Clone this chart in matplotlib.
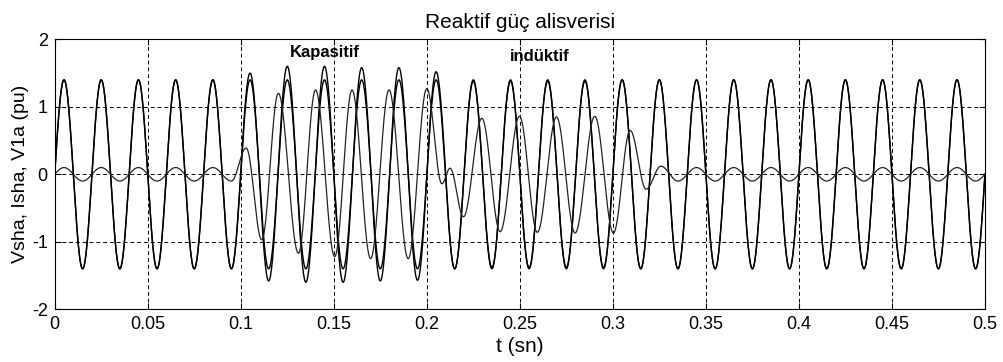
import numpy as np
import matplotlib
matplotlib.use('Agg')
from matplotlib import pyplot as plt

# half-cycle extreme times of the 50 Hz waveforms (s), one before/after the window
peak_t = np.round(np.arange(52) * 0.01 - 0.005, 4)

# |peak| of each half cycle (sign alternates, first is a trough)
vsha_amp = [1.4] * 52
v1a_amp = [1.4,
           1.4, 1.4, 1.4, 1.4, 1.4, 1.4, 1.4, 1.4, 1.4, 1.4,
           1.5, 1.58, 1.6, 1.6, 1.6, 1.6, 1.58, 1.58, 1.58, 1.57,
           1.52, 1.4, 1.38, 1.38, 1.38, 1.38, 1.38, 1.38, 1.38, 1.38,
           1.4, 1.4, 1.4, 1.4, 1.4, 1.4, 1.4, 1.4, 1.4, 1.4,
           1.4, 1.4, 1.4, 1.4, 1.4, 1.4, 1.4, 1.4, 1.4, 1.4,
           1.4]

# shunt current extremes (t, value)
isha_t = [-0.005, 0.005, 0.015, 0.025, 0.035, 0.045, 0.055, 0.065, 0.075, 0.085, 0.095,
          0.1029, 0.1113, 0.1202, 0.131, 0.1402, 0.1505, 0.1598, 0.1698, 0.1797, 0.19,
          0.2, 0.2081, 0.2125, 0.2197, 0.2296, 0.2394, 0.2498, 0.2594, 0.2697, 0.2797,
          0.2903, 0.3003, 0.3093, 0.3179, 0.3258, 0.335, 0.345, 0.355, 0.365, 0.375,
          0.385, 0.395, 0.405, 0.415, 0.425, 0.435, 0.445, 0.455, 0.465, 0.475,
          0.485, 0.495, 0.505]
isha_v = [-0.1, 0.1, -0.1, 0.1, -0.1, 0.1, -0.1, 0.1, -0.1, 0.1, -0.1,
          0.39, -0.97, 1.2, -1.17, 1.25, -1.22, 1.25, -1.25, 1.25, -1.25,
          1.27, -0.14, 0.09, -0.63, 0.83, -0.85, 0.86, -0.86, 0.85, -0.87,
          0.86, -0.87, 0.65, -0.22, 0.12, -0.1, 0.1, -0.1, 0.1, -0.1,
          0.1, -0.1, 0.1, -0.1, 0.1, -0.1, 0.1, -0.1, 0.1, -0.1,
          0.1, -0.1, 0.1]

x_ticks = [0, 0.05, 0.1, 0.15, 0.2, 0.25, 0.3, 0.35, 0.4, 0.45, 0.5]
x_ticklabels = ['0', '0.05', '0.1', '0.15', '0.2', '0.25', '0.3', '0.35', '0.4', '0.45', '0.5']
y_ticks = [-2, -1, 0, 1, 2]


def wave(tk, vk, t):
    # join consecutive extremes with half-cosine arcs
    tk = np.asarray(tk)
    vk = np.asarray(vk)
    i = np.clip(np.searchsorted(tk, t) - 1, 0, len(tk) - 2)
    s = (t - tk[i]) / (tk[i + 1] - tk[i])
    return vk[i] + (vk[i + 1] - vk[i]) * (1 - np.cos(np.pi * s)) / 2


sign = np.array([(-1) ** (k + 1) for k in range(len(peak_t))])
t = np.linspace(0, 0.5, 5001)
vsha = wave(peak_t, sign * np.array(vsha_amp), t)
v1a = wave(peak_t, sign * np.array(v1a_amp), t)
isha = wave(isha_t, isha_v, t)

plt.rcParams['font.family'] = ['Liberation Sans', 'DejaVu Sans']
plt.rcParams['axes.unicode_minus'] = False

fig = plt.figure(figsize=(10.04, 3.62), dpi=100)
ax = fig.add_axes([0.0545, 0.1456, 0.9265, 0.7458])

ax.plot(t, vsha, color='black', lw=1.0)
ax.plot(t, v1a, color='black', lw=1.0)
ax.plot(t, isha, color='#222222', lw=0.9)

ax.set_xlim(0, 0.5)
ax.set_ylim(-2, 2)
ax.set_xticks(x_ticks)
ax.set_xticklabels(x_ticklabels)
ax.set_yticks(y_ticks)
ax.tick_params(direction='in', top=True, right=True, labelsize=13, length=4, pad=5)
ax.grid(True, color='black', linestyle=(0, (4, 3)), lw=0.7)

ax.set_title('Reaktif güç alisverisi', fontsize=15, pad=8)
ax.set_xlabel('t (sn)', fontsize=15, labelpad=3)
ax.set_ylabel('Vsha, Isha, V1a (pu)', fontsize=14, labelpad=2)

ax.text(0.1265, 1.81, 'Kapasitif', fontsize=12, fontweight='bold', va='center', ha='left')
ax.text(0.2445, 1.75, 'indüktif', fontsize=12, fontweight='bold', va='center', ha='left')

fig.savefig('out.png', dpi=100)
